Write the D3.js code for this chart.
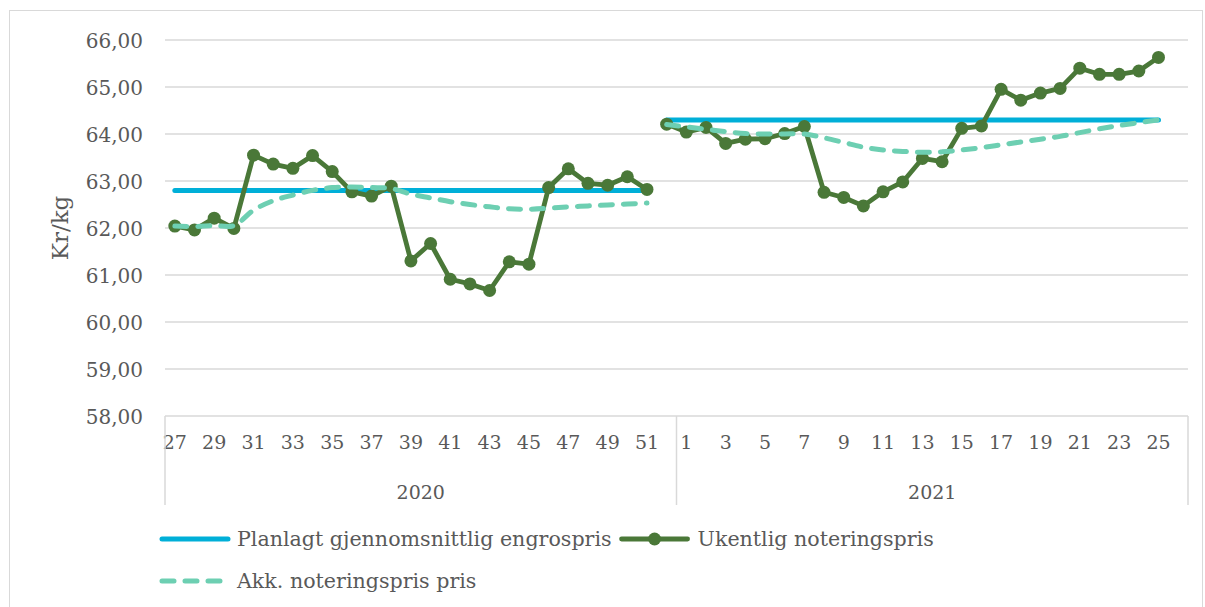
<!DOCTYPE html>
<html><head><meta charset="utf-8">
<script src="https://cdn.jsdelivr.net/npm/d3@7"></script>
<style>
body{margin:0;background:#fff}
svg{display:block}
text{font-family:"DejaVu Serif",Georgia,serif;fill:#595959}
</style>
</head><body>
<svg id="chart" width="1205" height="607"></svg>
<script>
// ---- data ----
const weeks2020 = [27,28,29,30,31,32,33,34,35,36,37,38,39,40,41,42,43,44,45,46,47,48,49,50,51,52];
const weeks2021 = [1,2,3,4,5,6,7,8,9,10,11,12,13,14,15,16,17,18,19,20,21,22,23,24,25,26];
const years = ["2020","2021"];
const yTicks = [58,59,60,61,62,63,64,65,66];
// first category of each season
const seasonStarts = ["2020-27","2020-52"];
const plannedPrice = [62.80, 64.30];
const weeklyS1 = [62.04,61.96,62.21,61.99,63.55,63.36,63.27,63.54,63.20,62.77,62.68,62.89,61.30,61.67,60.91,60.81,60.67,61.28,61.23,62.86,63.26,62.95,62.91,63.09,62.82];
const weeklyS2 = [64.21,64.04,64.14,63.80,63.89,63.90,64.01,64.16,62.76,62.65,62.47,62.77,62.98,63.48,63.41,64.12,64.17,64.95,64.72,64.87,64.97,65.40,65.27,65.27,65.34,65.63];
const accS1 = [62.04,62.03,62.05,62.05,62.38,62.58,62.70,62.80,62.86,62.87,62.86,62.84,62.72,62.64,62.56,62.50,62.45,62.41,62.40,62.42,62.45,62.47,62.49,62.51,62.53];
const accS2 = [64.20,64.15,64.10,64.05,64.01,64.00,64.00,64.00,63.92,63.82,63.72,63.66,63.63,63.61,63.62,63.66,63.71,63.77,63.83,63.89,63.95,64.03,64.11,64.18,64.24,64.30];
const seriesNames = ["Planlagt gjennomsnittlig engrospris","Ukentlig noteringspris","Akk. noteringspris pris"];
const yTitle = "Kr/kg";

// ---- build ----
const cats = [
  ...weeks2020.map(w => ({key: years[0] + "-" + w, week: w, year: years[0]})),
  ...weeks2021.map(w => ({key: years[1] + "-" + w, week: w, year: years[1]}))
];
const keys = cats.map(c => c.key);

const svg = d3.select("#chart");
const M = {left:165, right:1188, top:40, bottom:416};
const x = d3.scaleBand().domain(keys).range([M.left, M.right]).padding(0);
const cx = k => x(k) + x.bandwidth()/2;
const y = d3.scaleLinear().domain([58,66]).range([M.bottom, M.top]);

const C = {grid:"#d9d9d9", blue:"#00afd8", green:"#4a7838", dash:"#6dcfb2"};

// outer border
svg.append("rect").attr("x",9.5).attr("y",10.5).attr("width",1193).attr("height",620)
  .attr("fill","none").attr("stroke",C.grid).attr("stroke-width",1);

// gridlines
svg.append("g").selectAll("line").data(yTicks).join("line")
  .attr("x1",M.left).attr("x2",M.right)
  .attr("y1",d=>y(d)).attr("y2",d=>y(d))
  .attr("stroke",C.grid).attr("stroke-width",1.5);

// y axis labels
const fmt = d => d3.format(".2f")(d).replace(".", ",");
const yAxis = d3.axisLeft(y).tickValues(yTicks).tickFormat(fmt).tickSize(0).tickPadding(0);
const yg = svg.append("g").attr("transform",`translate(${M.left-22},0)`).call(yAxis);
yg.select(".domain").remove();
yg.selectAll("text").attr("font-size",20).attr("font-family","DejaVu Serif").attr("fill","#595959").attr("dy","0.35em");

// y title
svg.append("text").attr("transform",`translate(68,228) rotate(-90)`)
  .attr("text-anchor","middle").attr("font-size",23).text(yTitle);

// x axis (weeks)
const xAxis = d3.axisBottom(x).tickSize(0).tickPadding(0)
  .tickFormat((k,i) => i % 2 === 0 ? cats[i].week : "");
const xg = svg.append("g").attr("transform",`translate(0,${M.bottom})`).call(xAxis);
xg.select(".domain").remove();
xg.selectAll("text").attr("font-size",19).attr("font-family","DejaVu Serif").attr("fill","#595959").attr("y",33).attr("dy",0);

// year groups & separators
const yearBounds = years.map(yr => {
  const ks = cats.filter(c => c.year === yr).map(c => c.key);
  return {yr, x0: x(ks[0]), x1: x(ks[ks.length-1]) + x.bandwidth()};
});
const seps = [yearBounds[0].x0, yearBounds[0].x1, yearBounds[1].x1];
svg.append("g").selectAll("line").data(seps).join("line")
  .attr("x1",d=>d).attr("x2",d=>d).attr("y1",M.bottom).attr("y2",505)
  .attr("stroke",C.grid).attr("stroke-width",1.5);
svg.append("g").selectAll("text").data(yearBounds).join("text")
  .attr("x",d=>(d.x0+d.x1)/2).attr("y",499).attr("text-anchor","middle")
  .attr("font-size",19).text(d=>d.yr);

// series
const seasonData = (startKey, vals) => {
  const s = keys.indexOf(startKey);
  return vals.map((v,i) => ({k: keys[s+i], v}));
};
const seasons = [
  {weekly: seasonData(seasonStarts[0], weeklyS1), acc: seasonData(seasonStarts[0], accS1), plan: plannedPrice[0]},
  {weekly: seasonData(seasonStarts[1], weeklyS2), acc: seasonData(seasonStarts[1], accS2), plan: plannedPrice[1]}
];
const lineStraight = d3.line().x(d=>cx(d.k)).y(d=>y(d.v));
const lineSmooth = d3.line().x(d=>cx(d.k)).y(d=>y(d.v)).curve(d3.curveCatmullRom.alpha(0.5));

// planned (blue)
seasons.forEach(s => {
  const pd = s.weekly.map(d => ({k:d.k, v:s.plan}));
  svg.append("path").attr("d", lineStraight(pd)).attr("fill","none")
    .attr("stroke",C.blue).attr("stroke-width",5).attr("stroke-linecap","round");
});
// weekly (green)
seasons.forEach(s => {
  svg.append("path").attr("d", lineStraight(s.weekly)).attr("fill","none")
    .attr("stroke",C.green).attr("stroke-width",4.8).attr("stroke-linejoin","round");
  svg.append("g").selectAll("circle").data(s.weekly).join("circle")
    .attr("cx",d=>cx(d.k)).attr("cy",d=>y(d.v)).attr("r",6.5).attr("fill",C.green);
});
// accumulated (dashed)
seasons.forEach(s => {
  svg.append("path").attr("d", lineSmooth(s.acc)).attr("fill","none")
    .attr("stroke",C.dash).attr("stroke-width",5).attr("stroke-linecap","round")
    .attr("stroke-dasharray","12,11");
});

// legend
const lg = svg.append("g");
const row1 = 539, row2 = 581, lfs = 20.6;
lg.append("line").attr("x1",162).attr("x2",228).attr("y1",row1).attr("y2",row1)
  .attr("stroke",C.blue).attr("stroke-width",5).attr("stroke-linecap","round");
const t1 = lg.append("text").attr("x",237).attr("y",row1).attr("dy","0.35em").attr("font-size",lfs).text(seriesNames[0]);
const t1end = 237 + t1.node().getComputedTextLength();
const gx0 = t1end + 10, gx1 = gx0 + 66;
lg.append("line").attr("x1",gx0).attr("x2",gx1).attr("y1",row1).attr("y2",row1)
  .attr("stroke",C.green).attr("stroke-width",4.8).attr("stroke-linecap","round");
lg.append("circle").attr("cx",(gx0+gx1)/2).attr("cy",row1).attr("r",6.5).attr("fill",C.green);
lg.append("text").attr("x",gx1+10).attr("y",row1).attr("dy","0.35em").attr("font-size",lfs).text(seriesNames[1]);
lg.append("line").attr("x1",162).attr("x2",226).attr("y1",row2).attr("y2",row2)
  .attr("stroke",C.dash).attr("stroke-width",5).attr("stroke-linecap","round").attr("stroke-dasharray","12,11");
lg.append("text").attr("x",237).attr("y",row2).attr("dy","0.35em").attr("font-size",lfs).text(seriesNames[2]);
</script>
</body></html>
